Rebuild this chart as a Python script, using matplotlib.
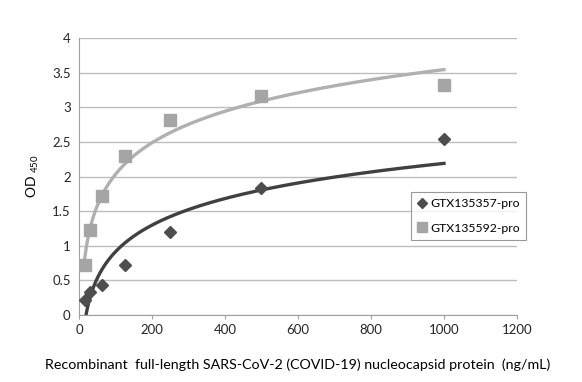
import numpy as np
import matplotlib
matplotlib.use("Agg")
import matplotlib.pyplot as plt

plt.rcParams['font.family'] = ['Lato', 'DejaVu Sans']
plt.rcParams['mathtext.default'] = 'regular'

conc = [15.6, 31.25, 62.5, 125, 250, 500, 1000]
gtx357 = [0.21, 0.33, 0.43, 0.72, 1.20, 1.83, 2.54]
gtx592 = [0.72, 1.23, 1.72, 2.29, 2.81, 3.16, 3.32]
names = ["GTX135357-pro", "GTX135592-pro"]
xticks = [0, 200, 400, 600, 800, 1000, 1200]
yticks = [0, 0.5, 1, 1.5, 2, 2.5, 3, 3.5, 4]

fig = plt.figure(figsize=(5.82, 3.82), dpi=100)
ax = fig.add_axes([0.1357, 0.1754, 0.7526, 0.725])

dark_m, dark_l = '#4d4d4d', '#404040'
light_m, light_l = '#a5a5a5', '#b0b0b0'

xs = np.linspace(min(conc), max(conc), 600)
for ys, lc in ((gtx357, dark_l), (gtx592, light_l)):
    b, a = np.polyfit(np.log(conc), ys, 1)
    ax.plot(xs, a + b * np.log(xs), color=lc, lw=2.4, zorder=2, clip_on=True)

ax.plot(conc, gtx357, linestyle='none', marker='D', ms=6, color=dark_m, label=names[0], zorder=3)
ax.plot(conc, gtx592, linestyle='none', marker='s', ms=9, color=light_m, label=names[1], zorder=3)

ax.set_xlim(0, 1200)
ax.set_ylim(0, 4)
ax.set_xticks(xticks)
ax.set_yticks(yticks)
ax.set_yticklabels([f"{v:g}" for v in yticks])
ax.grid(axis='y', color='#bdbdbd', lw=1)
ax.set_axisbelow(True)
for s in ('top', 'right'):
    ax.spines[s].set_visible(False)
for s in ('left', 'bottom'):
    ax.spines[s].set_color('#a0a0a0')
ax.tick_params(axis='both', colors='#a0a0a0', labelcolor='#262626', labelsize=9.5, length=3)
ax.tick_params(axis='y', length=0, pad=6)

ax.set_xlabel("Recombinant  full-length SARS-CoV-2 (COVID-19) nucleocapsid protein  (ng/mL)",
              fontsize=10.3, color='black', labelpad=16)
ax.set_ylabel(r"OD $_{450}$", fontsize=10, color='black', labelpad=8)

leg = fig.legend(loc='upper left', bbox_to_anchor=(411/582, 1 - 192/382), fontsize=8.8,
                 frameon=True, fancybox=False, handlelength=0.8, handletextpad=0.3,
                 borderpad=0.5, labelspacing=1.1, markerscale=0.8, borderaxespad=0)
leg.get_frame().set_edgecolor('#808080')
leg.get_frame().set_linewidth(0.8)

fig.savefig("out.png", dpi=100)
